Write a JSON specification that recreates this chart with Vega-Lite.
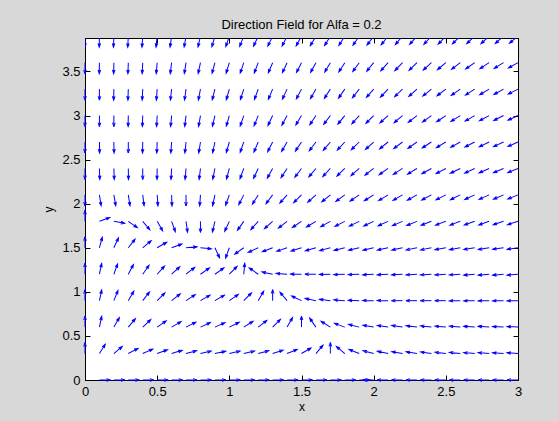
{
"$schema": "https://vega.github.io/schema/vega-lite/v6.json",
"width": 433, "height": 342,
"autosize": {"type": "none"},
"padding": {"left": 85, "top": 38, "right": 41, "bottom": 41},
"background": "#d8d8d8",
"title": {"text": "Direction Field for Alfa = 0.2", "fontSize": 13, "font": "Liberation Sans", "fontWeight": "normal", "color": "black", "offset": 6, "anchor": "middle"},
"data": {"values": [
{"x":0,"y":3.9,"a":180},{"x":0.1,"y":3.9,"a":181},{"x":0.2,"y":3.9,"a":182},{"x":0.3,"y":3.9,"a":183},{"x":0.4,"y":3.9,"a":184},{"x":0.5,"y":3.9,"a":186},{"x":0.6,"y":3.9,"a":188},{"x":0.7,"y":3.9,"a":190},{"x":0.8,"y":3.9,"a":193},{"x":0.9,"y":3.9,"a":196},{"x":1,"y":3.9,"a":199},{"x":1.1,"y":3.9,"a":202},{"x":1.2,"y":3.9,"a":205},{"x":1.3,"y":3.9,"a":206},{"x":1.4,"y":3.9,"a":207},{"x":1.5,"y":3.9,"a":209},{"x":1.6,"y":3.9,"a":211},{"x":1.7,"y":3.9,"a":212},{"x":1.8,"y":3.9,"a":213},{"x":1.9,"y":3.9,"a":215},{"x":2,"y":3.9,"a":217},{"x":2.1,"y":3.9,"a":219},{"x":2.2,"y":3.9,"a":221},{"x":2.3,"y":3.9,"a":222},{"x":2.4,"y":3.9,"a":223},{"x":2.5,"y":3.9,"a":224},{"x":2.6,"y":3.9,"a":226},{"x":2.7,"y":3.9,"a":227},{"x":2.8,"y":3.9,"a":228},{"x":2.9,"y":3.9,"a":229},{"x":3,"y":3.9,"a":231},
{"x":0,"y":3.6,"a":180},{"x":0.1,"y":3.6,"a":181},{"x":0.2,"y":3.6,"a":181},{"x":0.3,"y":3.6,"a":182},{"x":0.4,"y":3.6,"a":183},{"x":0.5,"y":3.6,"a":185},{"x":0.6,"y":3.6,"a":187},{"x":0.7,"y":3.6,"a":189},{"x":0.8,"y":3.6,"a":192},{"x":0.9,"y":3.6,"a":195},{"x":1,"y":3.6,"a":197},{"x":1.1,"y":3.6,"a":199},{"x":1.2,"y":3.6,"a":201},{"x":1.3,"y":3.6,"a":203},{"x":1.4,"y":3.6,"a":205},{"x":1.5,"y":3.6,"a":207},{"x":1.6,"y":3.6,"a":209},{"x":1.7,"y":3.6,"a":211},{"x":1.8,"y":3.6,"a":213},{"x":1.9,"y":3.6,"a":216},{"x":2,"y":3.6,"a":219},{"x":2.1,"y":3.6,"a":222},{"x":2.2,"y":3.6,"a":224},{"x":2.3,"y":3.6,"a":226},{"x":2.4,"y":3.6,"a":228},{"x":2.5,"y":3.6,"a":230},{"x":2.6,"y":3.6,"a":233},{"x":2.7,"y":3.6,"a":235},{"x":2.8,"y":3.6,"a":237},{"x":2.9,"y":3.6,"a":239},{"x":3,"y":3.6,"a":241},
{"x":0,"y":3.3,"a":180},{"x":0.1,"y":3.3,"a":180},{"x":0.2,"y":3.3,"a":181},{"x":0.3,"y":3.3,"a":182},{"x":0.4,"y":3.3,"a":183},{"x":0.5,"y":3.3,"a":184},{"x":0.6,"y":3.3,"a":186},{"x":0.7,"y":3.3,"a":188},{"x":0.8,"y":3.3,"a":191},{"x":0.9,"y":3.3,"a":194},{"x":1,"y":3.3,"a":196},{"x":1.1,"y":3.3,"a":198},{"x":1.2,"y":3.3,"a":200},{"x":1.3,"y":3.3,"a":203},{"x":1.4,"y":3.3,"a":205},{"x":1.5,"y":3.3,"a":208},{"x":1.6,"y":3.3,"a":210},{"x":1.7,"y":3.3,"a":213},{"x":1.8,"y":3.3,"a":215},{"x":1.9,"y":3.3,"a":218},{"x":2,"y":3.3,"a":221},{"x":2.1,"y":3.3,"a":224},{"x":2.2,"y":3.3,"a":226},{"x":2.3,"y":3.3,"a":228},{"x":2.4,"y":3.3,"a":231},{"x":2.5,"y":3.3,"a":233},{"x":2.6,"y":3.3,"a":235},{"x":2.7,"y":3.3,"a":237},{"x":2.8,"y":3.3,"a":239},{"x":2.9,"y":3.3,"a":241},{"x":3,"y":3.3,"a":243},
{"x":0,"y":3.0,"a":180},{"x":0.1,"y":3.0,"a":180},{"x":0.2,"y":3.0,"a":180},{"x":0.3,"y":3.0,"a":181},{"x":0.4,"y":3.0,"a":182},{"x":0.5,"y":3.0,"a":183},{"x":0.6,"y":3.0,"a":185},{"x":0.7,"y":3.0,"a":187},{"x":0.8,"y":3.0,"a":190},{"x":0.9,"y":3.0,"a":193},{"x":1,"y":3.0,"a":196},{"x":1.1,"y":3.0,"a":199},{"x":1.2,"y":3.0,"a":202},{"x":1.3,"y":3.0,"a":205},{"x":1.4,"y":3.0,"a":208},{"x":1.5,"y":3.0,"a":211},{"x":1.6,"y":3.0,"a":214},{"x":1.7,"y":3.0,"a":217},{"x":1.8,"y":3.0,"a":219},{"x":1.9,"y":3.0,"a":222},{"x":2,"y":3.0,"a":225},{"x":2.1,"y":3.0,"a":228},{"x":2.2,"y":3.0,"a":230},{"x":2.3,"y":3.0,"a":232},{"x":2.4,"y":3.0,"a":234},{"x":2.5,"y":3.0,"a":236},{"x":2.6,"y":3.0,"a":238},{"x":2.7,"y":3.0,"a":240},{"x":2.8,"y":3.0,"a":242},{"x":2.9,"y":3.0,"a":243},{"x":3,"y":3.0,"a":245},
{"x":0,"y":2.7,"a":180},{"x":0.1,"y":2.7,"a":179},{"x":0.2,"y":2.7,"a":179},{"x":0.3,"y":2.7,"a":180},{"x":0.4,"y":2.7,"a":181},{"x":0.5,"y":2.7,"a":182},{"x":0.6,"y":2.7,"a":184},{"x":0.7,"y":2.7,"a":186},{"x":0.8,"y":2.7,"a":189},{"x":0.9,"y":2.7,"a":192},{"x":1,"y":2.7,"a":196},{"x":1.1,"y":2.7,"a":199},{"x":1.2,"y":2.7,"a":203},{"x":1.3,"y":2.7,"a":207},{"x":1.4,"y":2.7,"a":210},{"x":1.5,"y":2.7,"a":214},{"x":1.6,"y":2.7,"a":217},{"x":1.7,"y":2.7,"a":220},{"x":1.8,"y":2.7,"a":223},{"x":1.9,"y":2.7,"a":226},{"x":2,"y":2.7,"a":228},{"x":2.1,"y":2.7,"a":231},{"x":2.2,"y":2.7,"a":233},{"x":2.3,"y":2.7,"a":235},{"x":2.4,"y":2.7,"a":237},{"x":2.5,"y":2.7,"a":239},{"x":2.6,"y":2.7,"a":241},{"x":2.7,"y":2.7,"a":243},{"x":2.8,"y":2.7,"a":244},{"x":2.9,"y":2.7,"a":245},{"x":3,"y":2.7,"a":246},
{"x":0,"y":2.4,"a":180},{"x":0.1,"y":2.4,"a":178},{"x":0.2,"y":2.4,"a":178},{"x":0.3,"y":2.4,"a":179},{"x":0.4,"y":2.4,"a":180},{"x":0.5,"y":2.4,"a":181},{"x":0.6,"y":2.4,"a":183},{"x":0.7,"y":2.4,"a":185},{"x":0.8,"y":2.4,"a":187},{"x":0.9,"y":2.4,"a":191},{"x":1,"y":2.4,"a":195},{"x":1.1,"y":2.4,"a":200},{"x":1.2,"y":2.4,"a":205},{"x":1.3,"y":2.4,"a":209},{"x":1.4,"y":2.4,"a":213},{"x":1.5,"y":2.4,"a":217},{"x":1.6,"y":2.4,"a":220},{"x":1.7,"y":2.4,"a":223},{"x":1.8,"y":2.4,"a":226},{"x":1.9,"y":2.4,"a":229},{"x":2,"y":2.4,"a":232},{"x":2.1,"y":2.4,"a":235},{"x":2.2,"y":2.4,"a":237},{"x":2.3,"y":2.4,"a":239},{"x":2.4,"y":2.4,"a":241},{"x":2.5,"y":2.4,"a":242},{"x":2.6,"y":2.4,"a":244},{"x":2.7,"y":2.4,"a":245},{"x":2.8,"y":2.4,"a":246},{"x":2.9,"y":2.4,"a":247},{"x":3,"y":2.4,"a":248},
{"x":0,"y":2.1,"a":180},{"x":0.1,"y":2.1,"a":171},{"x":0.2,"y":2.1,"a":170},{"x":0.3,"y":2.1,"a":171},{"x":0.4,"y":2.1,"a":173},{"x":0.5,"y":2.1,"a":176},{"x":0.6,"y":2.1,"a":178},{"x":0.7,"y":2.1,"a":180},{"x":0.8,"y":2.1,"a":184},{"x":0.9,"y":2.1,"a":192},{"x":1,"y":2.1,"a":200},{"x":1.1,"y":2.1,"a":207},{"x":1.2,"y":2.1,"a":212},{"x":1.3,"y":2.1,"a":217},{"x":1.4,"y":2.1,"a":221},{"x":1.5,"y":2.1,"a":225},{"x":1.6,"y":2.1,"a":228},{"x":1.7,"y":2.1,"a":231},{"x":1.8,"y":2.1,"a":234},{"x":1.9,"y":2.1,"a":236},{"x":2,"y":2.1,"a":238},{"x":2.1,"y":2.1,"a":239},{"x":2.2,"y":2.1,"a":240},{"x":2.3,"y":2.1,"a":241},{"x":2.4,"y":2.1,"a":242},{"x":2.5,"y":2.1,"a":243},{"x":2.6,"y":2.1,"a":244},{"x":2.7,"y":2.1,"a":245},{"x":2.8,"y":2.1,"a":246},{"x":2.9,"y":2.1,"a":247},{"x":3,"y":2.1,"a":248},
{"x":0,"y":1.8,"a":0},{"x":0.1,"y":1.8,"a":70},{"x":0.2,"y":1.8,"a":100},{"x":0.3,"y":1.8,"a":125},{"x":0.4,"y":1.8,"a":140},{"x":0.5,"y":1.8,"a":150},{"x":0.6,"y":1.8,"a":160},{"x":0.7,"y":1.8,"a":172},{"x":0.8,"y":1.8,"a":180},{"x":0.9,"y":1.8,"a":193},{"x":1,"y":1.8,"a":205},{"x":1.1,"y":1.8,"a":215},{"x":1.2,"y":1.8,"a":222},{"x":1.3,"y":1.8,"a":228},{"x":1.4,"y":1.8,"a":232},{"x":1.5,"y":1.8,"a":236},{"x":1.6,"y":1.8,"a":239},{"x":1.7,"y":1.8,"a":241},{"x":1.8,"y":1.8,"a":243},{"x":1.9,"y":1.8,"a":244},{"x":2,"y":1.8,"a":245},{"x":2.1,"y":1.8,"a":246},{"x":2.2,"y":1.8,"a":247},{"x":2.3,"y":1.8,"a":248},{"x":2.4,"y":1.8,"a":249},{"x":2.5,"y":1.8,"a":250},{"x":2.6,"y":1.8,"a":250},{"x":2.7,"y":1.8,"a":251},{"x":2.8,"y":1.8,"a":251},{"x":2.9,"y":1.8,"a":252},{"x":3,"y":1.8,"a":252},
{"x":0,"y":1.5,"a":0},{"x":0.1,"y":1.5,"a":15},{"x":0.2,"y":1.5,"a":25},{"x":0.3,"y":1.5,"a":38},{"x":0.4,"y":1.5,"a":50},{"x":0.5,"y":1.5,"a":60},{"x":0.6,"y":1.5,"a":70},{"x":0.7,"y":1.5,"a":85},{"x":0.8,"y":1.5,"a":95},{"x":0.9,"y":1.5,"a":155},{"x":1,"y":1.5,"a":200},{"x":1.1,"y":1.5,"a":235},{"x":1.2,"y":1.5,"a":245},{"x":1.3,"y":1.5,"a":249},{"x":1.4,"y":1.5,"a":251},{"x":1.5,"y":1.5,"a":253},{"x":1.6,"y":1.5,"a":254},{"x":1.7,"y":1.5,"a":255},{"x":1.8,"y":1.5,"a":256},{"x":1.9,"y":1.5,"a":257},{"x":2,"y":1.5,"a":257},{"x":2.1,"y":1.5,"a":258},{"x":2.2,"y":1.5,"a":258},{"x":2.3,"y":1.5,"a":259},{"x":2.4,"y":1.5,"a":259},{"x":2.5,"y":1.5,"a":260},{"x":2.6,"y":1.5,"a":260},{"x":2.7,"y":1.5,"a":261},{"x":2.8,"y":1.5,"a":261},{"x":2.9,"y":1.5,"a":262},{"x":3,"y":1.5,"a":262},
{"x":0,"y":1.2,"a":0},{"x":0.1,"y":1.2,"a":12},{"x":0.2,"y":1.2,"a":20},{"x":0.3,"y":1.2,"a":28},{"x":0.4,"y":1.2,"a":35},{"x":0.5,"y":1.2,"a":42},{"x":0.6,"y":1.2,"a":48},{"x":0.7,"y":1.2,"a":52},{"x":0.8,"y":1.2,"a":55},{"x":0.9,"y":1.2,"a":55},{"x":1,"y":1.2,"a":45},{"x":1.1,"y":1.2,"a":5},{"x":1.2,"y":1.2,"a":305},{"x":1.3,"y":1.2,"a":282},{"x":1.4,"y":1.2,"a":274},{"x":1.5,"y":1.2,"a":271},{"x":1.6,"y":1.2,"a":270},{"x":1.7,"y":1.2,"a":269},{"x":1.8,"y":1.2,"a":268},{"x":1.9,"y":1.2,"a":268},{"x":2,"y":1.2,"a":267},{"x":2.1,"y":1.2,"a":267},{"x":2.2,"y":1.2,"a":267},{"x":2.3,"y":1.2,"a":266},{"x":2.4,"y":1.2,"a":266},{"x":2.5,"y":1.2,"a":266},{"x":2.6,"y":1.2,"a":266},{"x":2.7,"y":1.2,"a":265},{"x":2.8,"y":1.2,"a":265},{"x":2.9,"y":1.2,"a":265},{"x":3,"y":1.2,"a":265},
{"x":0,"y":0.9,"a":0},{"x":0.1,"y":0.9,"a":12},{"x":0.2,"y":0.9,"a":22},{"x":0.3,"y":0.9,"a":30},{"x":0.4,"y":0.9,"a":38},{"x":0.5,"y":0.9,"a":45},{"x":0.6,"y":0.9,"a":52},{"x":0.7,"y":0.9,"a":57},{"x":0.8,"y":0.9,"a":60},{"x":0.9,"y":0.9,"a":60},{"x":1,"y":0.9,"a":55},{"x":1.1,"y":0.9,"a":45},{"x":1.2,"y":0.9,"a":30},{"x":1.3,"y":0.9,"a":0},{"x":1.4,"y":0.9,"a":320},{"x":1.5,"y":0.9,"a":295},{"x":1.6,"y":0.9,"a":282},{"x":1.7,"y":0.9,"a":277},{"x":1.8,"y":0.9,"a":274},{"x":1.9,"y":0.9,"a":272},{"x":2,"y":0.9,"a":271},{"x":2.1,"y":0.9,"a":271},{"x":2.2,"y":0.9,"a":270},{"x":2.3,"y":0.9,"a":270},{"x":2.4,"y":0.9,"a":270},{"x":2.5,"y":0.9,"a":270},{"x":2.6,"y":0.9,"a":269},{"x":2.7,"y":0.9,"a":269},{"x":2.8,"y":0.9,"a":269},{"x":2.9,"y":0.9,"a":269},{"x":3,"y":0.9,"a":269},
{"x":0,"y":0.6,"a":0},{"x":0.1,"y":0.6,"a":12},{"x":0.2,"y":0.6,"a":30},{"x":0.3,"y":0.6,"a":40},{"x":0.4,"y":0.6,"a":47},{"x":0.5,"y":0.6,"a":55},{"x":0.6,"y":0.6,"a":60},{"x":0.7,"y":0.6,"a":63},{"x":0.8,"y":0.6,"a":65},{"x":0.9,"y":0.6,"a":66},{"x":1,"y":0.6,"a":64},{"x":1.1,"y":0.6,"a":58},{"x":1.2,"y":0.6,"a":52},{"x":1.3,"y":0.6,"a":45},{"x":1.4,"y":0.6,"a":30},{"x":1.5,"y":0.6,"a":0},{"x":1.6,"y":0.6,"a":325},{"x":1.7,"y":0.6,"a":302},{"x":1.8,"y":0.6,"a":290},{"x":1.9,"y":0.6,"a":284},{"x":2,"y":0.6,"a":280},{"x":2.1,"y":0.6,"a":279},{"x":2.2,"y":0.6,"a":278},{"x":2.3,"y":0.6,"a":277},{"x":2.4,"y":0.6,"a":276},{"x":2.5,"y":0.6,"a":275},{"x":2.6,"y":0.6,"a":275},{"x":2.7,"y":0.6,"a":274},{"x":2.8,"y":0.6,"a":274},{"x":2.9,"y":0.6,"a":273},{"x":3,"y":0.6,"a":273},
{"x":0,"y":0.3,"a":0},{"x":0.1,"y":0.3,"a":32},{"x":0.2,"y":0.3,"a":50},{"x":0.3,"y":0.3,"a":62},{"x":0.4,"y":0.3,"a":66},{"x":0.5,"y":0.3,"a":70},{"x":0.6,"y":0.3,"a":73},{"x":0.7,"y":0.3,"a":75},{"x":0.8,"y":0.3,"a":77},{"x":0.9,"y":0.3,"a":78},{"x":1,"y":0.3,"a":77},{"x":1.1,"y":0.3,"a":77},{"x":1.2,"y":0.3,"a":75},{"x":1.3,"y":0.3,"a":72},{"x":1.4,"y":0.3,"a":68},{"x":1.5,"y":0.3,"a":60},{"x":1.6,"y":0.3,"a":40},{"x":1.7,"y":0.3,"a":0},{"x":1.8,"y":0.3,"a":310},{"x":1.9,"y":0.3,"a":292},{"x":2,"y":0.3,"a":285},{"x":2.1,"y":0.3,"a":282},{"x":2.2,"y":0.3,"a":280},{"x":2.3,"y":0.3,"a":279},{"x":2.4,"y":0.3,"a":278},{"x":2.5,"y":0.3,"a":277},{"x":2.6,"y":0.3,"a":276},{"x":2.7,"y":0.3,"a":275},{"x":2.8,"y":0.3,"a":275},{"x":2.9,"y":0.3,"a":274},{"x":3,"y":0.3,"a":274},
{"x":0.1,"y":0,"a":90},{"x":0.2,"y":0,"a":90},{"x":0.3,"y":0,"a":90},{"x":0.4,"y":0,"a":90},{"x":0.5,"y":0,"a":90},{"x":0.6,"y":0,"a":90},{"x":0.7,"y":0,"a":90},{"x":0.8,"y":0,"a":90},{"x":0.9,"y":0,"a":90},{"x":1,"y":0,"a":90},{"x":1.1,"y":0,"a":90},{"x":1.2,"y":0,"a":90},{"x":1.3,"y":0,"a":90},{"x":1.4,"y":0,"a":90},{"x":1.5,"y":0,"a":90},{"x":1.6,"y":0,"a":90},{"x":1.7,"y":0,"a":90},{"x":1.8,"y":0,"a":90},{"x":1.9,"y":0,"a":90},{"x":2,"y":0,"a":270},{"x":2.1,"y":0,"a":270},{"x":2.2,"y":0,"a":270},{"x":2.3,"y":0,"a":270},{"x":2.4,"y":0,"a":270},{"x":2.5,"y":0,"a":270},{"x":2.6,"y":0,"a":270},{"x":2.7,"y":0,"a":270},{"x":2.8,"y":0,"a":270},{"x":2.9,"y":0,"a":270},{"x":3,"y":0,"a":270}
]},
"layer": [
{"transform": [{"filter": "datum.y < 3.8"}],
 "mark": {"type": "point", "shape": "M0,0L0,-2M-0.24,-1.3L0,-2L0.24,-1.3", "filled": false, "color": "#0000ff", "stroke": "#0000ff", "strokeWidth": 1, "size": 121, "opacity": 1, "clip": false},
 "encoding": {
  "x": {"field": "x", "type": "quantitative", "scale": {"domain": [0, 3], "nice": false, "zero": false}, "axis": {"orient": "bottom", "values": [0, 0.5, 1, 1.5, 2, 2.5, 3], "format": "~g", "title": "x", "titlePadding": 3, "zindex": 0}},
  "y": {"field": "y", "type": "quantitative", "scale": {"domain": [0, 3.88], "nice": false, "zero": false}, "axis": {"orient": "left", "values": [0, 0.5, 1, 1.5, 2, 2.5, 3, 3.5], "format": "~g", "title": "y", "titlePadding": 6, "zindex": 0}},
  "angle": {"field": "a", "type": "quantitative", "scale": null}
 }},
{"transform": [{"filter": "datum.y > 3.8"}],
 "mark": {"type": "point", "shape": "M0,0L0,-2M-0.24,-1.3L0,-2L0.24,-1.3", "filled": false, "color": "#0000ff", "stroke": "#0000ff", "strokeWidth": 1, "size": 121, "opacity": 1, "clip": true},
 "encoding": {
  "x": {"field": "x", "type": "quantitative", "axis": {"orient": "top", "values": [0, 0.5, 1, 1.5, 2, 2.5, 3], "labels": false, "title": null, "zindex": 0}},
  "y": {"field": "y", "type": "quantitative", "axis": {"orient": "right", "values": [0, 0.5, 1, 1.5, 2, 2.5, 3, 3.5], "labels": false, "title": null, "zindex": 0}},
  "angle": {"field": "a", "type": "quantitative", "scale": null}
 }}
],
"resolve": {"axis": {"x": "independent", "y": "independent"}},
"config": {
 "view": {"stroke": "black", "strokeWidth": 1, "fill": "white"},
 "axis": {"domainColor": "black", "domainWidth": 1, "tickColor": "black", "tickSize": -5, "labelColor": "black", "titleColor": "black", "labelFont": "Liberation Sans", "titleFont": "Liberation Sans", "labelFontSize": 13, "titleFontSize": 12, "titleFontWeight": "normal", "grid": false, "labelPadding": 10, "labelFlush": false, "labelOverlap": false}
}
}
